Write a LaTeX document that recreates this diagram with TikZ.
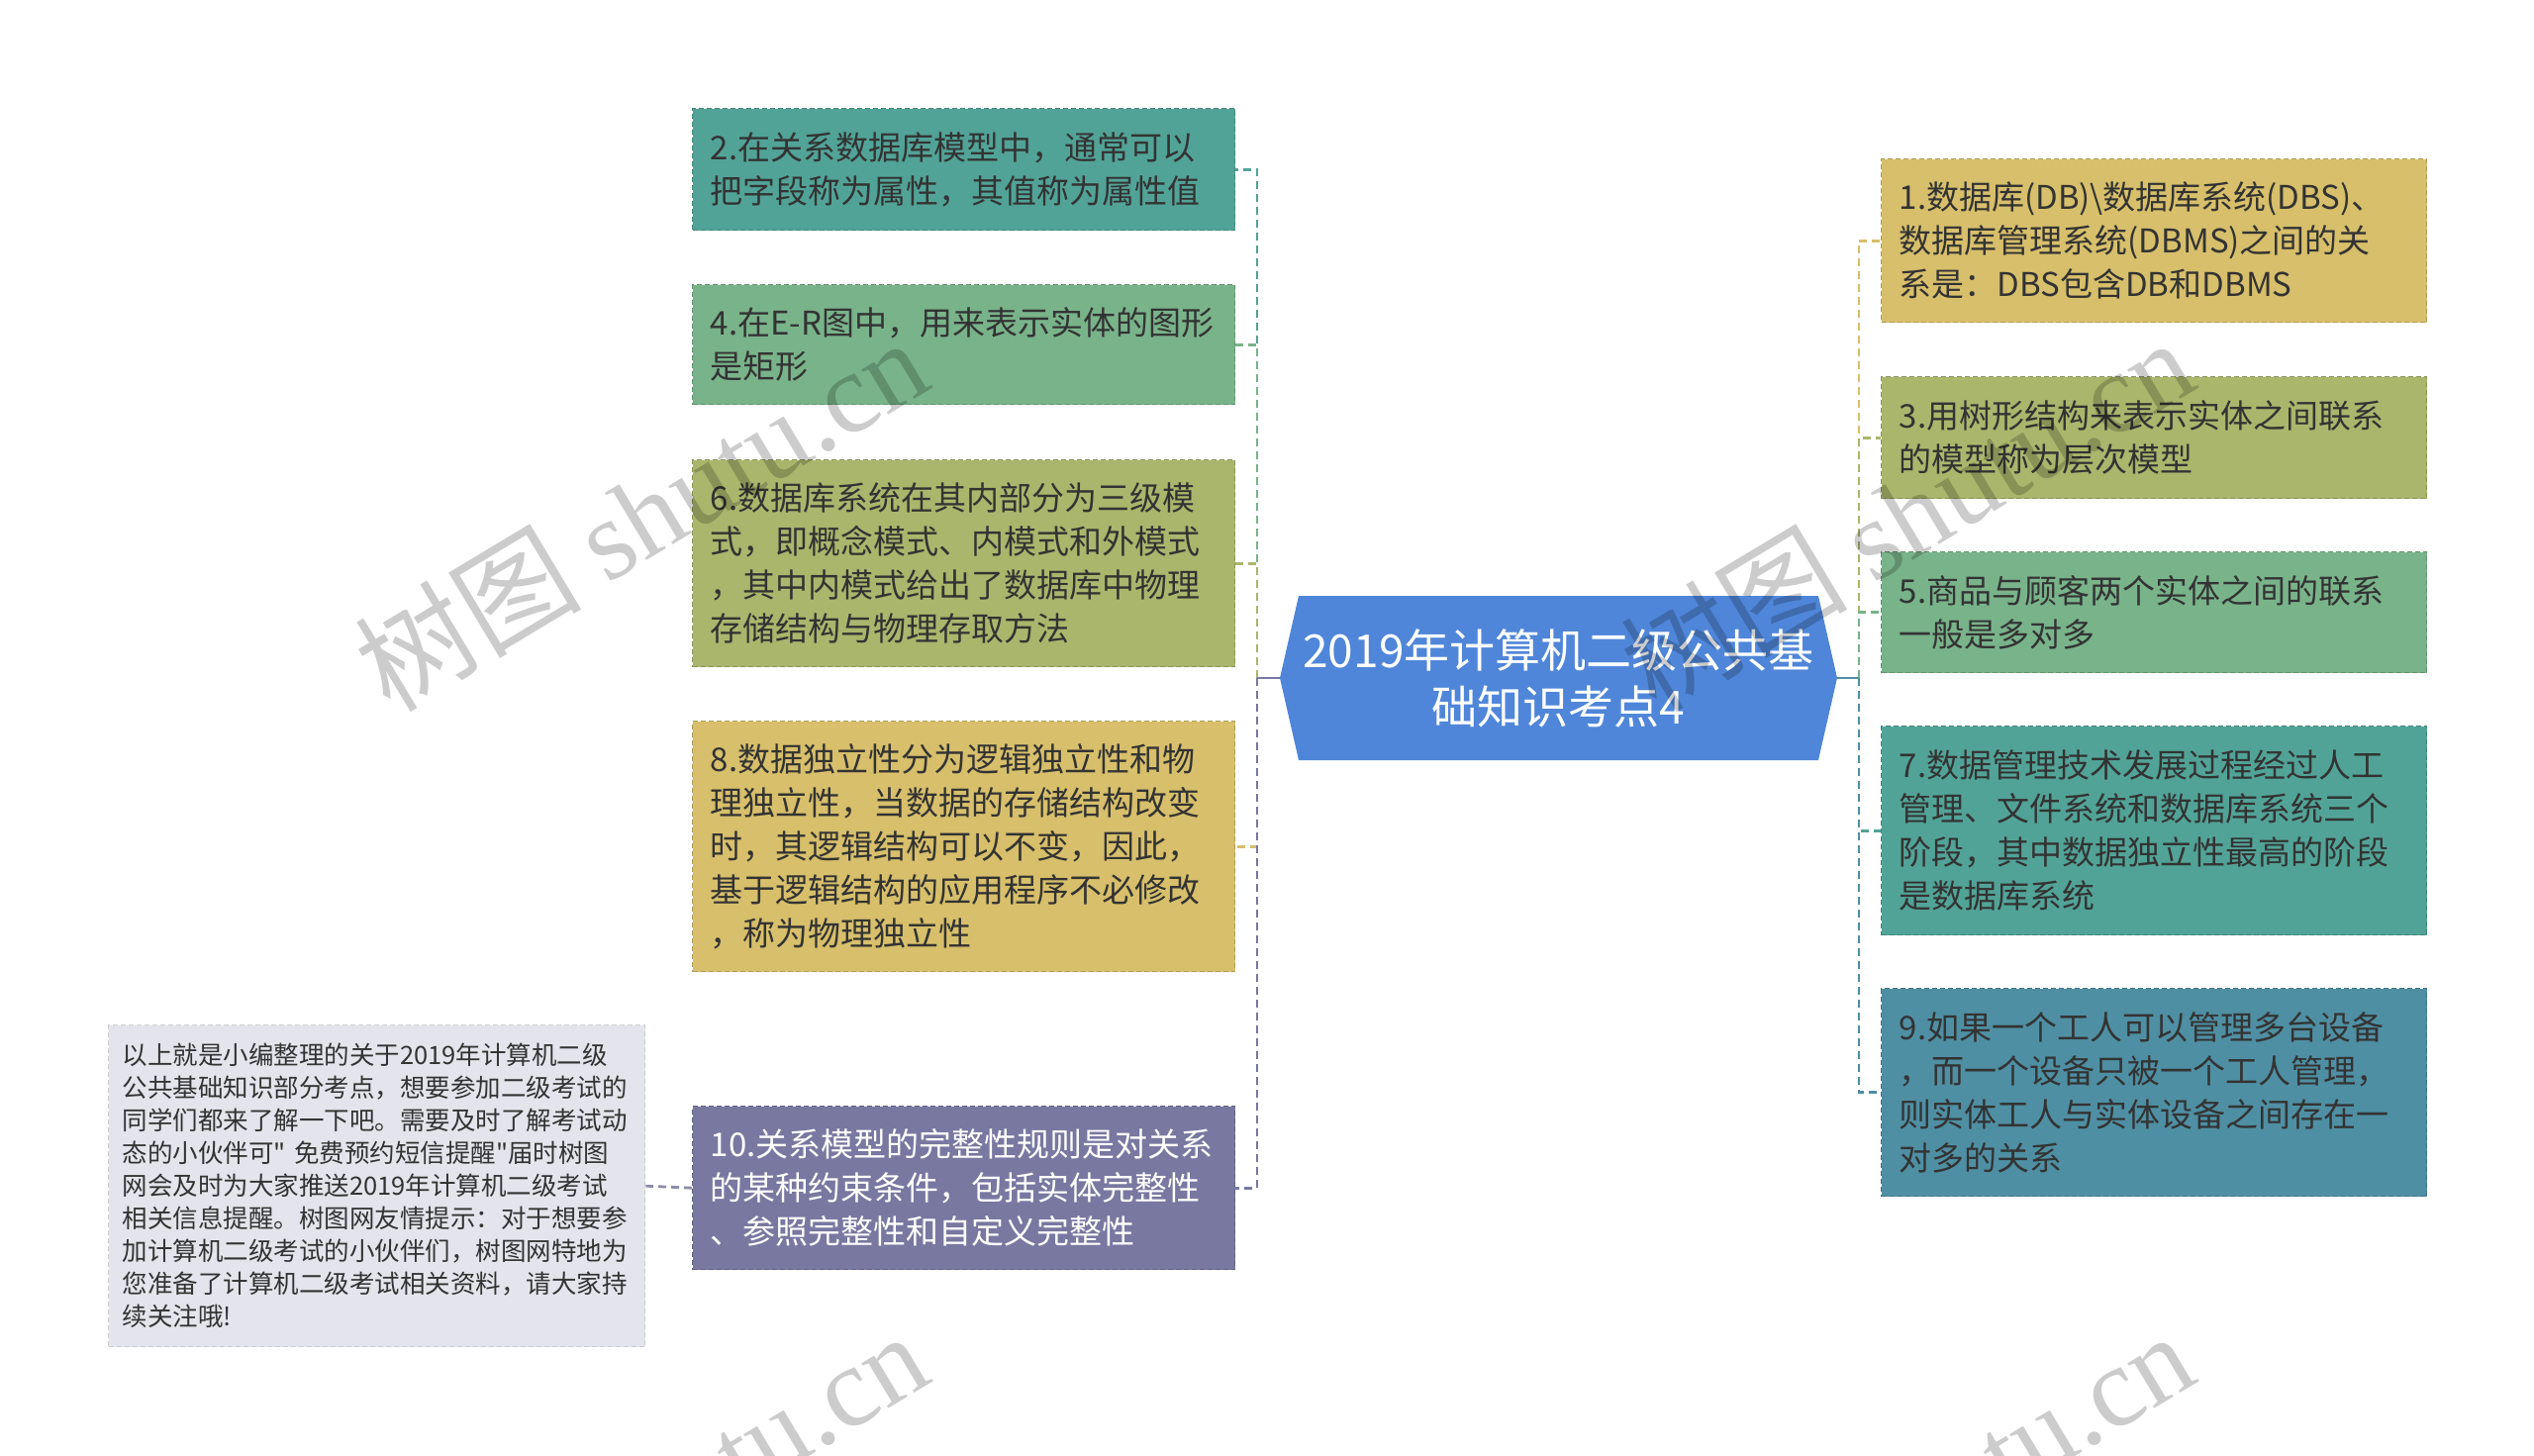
\documentclass[tikz,border=0pt]{standalone}
\usepackage{fontspec}
\setmainfont{Noto Sans CJK SC}[Ligatures=TeXOff]
\newfontfamily\wmlatin{Liberation Serif}
\definecolor{cTeal}{HTML}{52A397}
\definecolor{cGreen}{HTML}{79B38A}
\definecolor{cOlive}{HTML}{AAB66C}
\definecolor{cYellow}{HTML}{D7BF6B}
\definecolor{cPurple}{HTML}{7878A1}
\definecolor{cBlueTeal}{HTML}{4F8FA3}
\definecolor{cNote}{HTML}{E4E5EC}
\definecolor{cRoot}{HTML}{4F86D9}
\definecolor{cText}{HTML}{333333}
\definecolor{cNoteLine}{HTML}{8C8CA8}
\tikzset{
  leaf/.style={rectangle, anchor=north west, fill=#1, draw=#1!82!black,
    dash pattern=on 5pt off 3pt, line width=1.4pt, inner xsep=18pt, inner ysep=0pt,
    align=left, text=cText, font=\fontsize{33}{44}\selectfont},
  conn/.style={draw=#1, line width=2.8pt, dash pattern=on 8pt off 5pt},
  stub/.style={draw=#1, line width=2.8pt},
  wmark/.style={rotate=31, text=black, text opacity=0.2, font=\fontsize{115}{115}\selectfont},
}
\begin{document}
\begin{tikzpicture}[x=1pt,y=-1pt]
\useasboundingbox (0,0) rectangle (2560,1471);

% root
\fill[cRoot] (1312,602) -- (1837,602) -- (1856,685) -- (1837,768) -- (1312,768) -- (1293,685) -- cycle;
\node[font=\fontsize{46}{57}\selectfont, text=white, align=center, minimum width=563pt,
  minimum height=166pt, inner sep=0pt] (root) at (1574.5,685) {2019年计算机二级公共基\\础知识考点4};

% left children
\node[leaf=cTeal, text width=512pt, minimum height=123pt] (n2) at (699,109)
  {2.在关系数据库模型中，通常可以\\把字段称为属性，其值称为属性值};
\node[leaf=cGreen, text width=512pt, minimum height=121pt] (n4) at (699,287)
  {4.在E-R图中，用来表示实体的图形\\是矩形};
\node[leaf=cOlive, text width=512pt, minimum height=209pt] (n6) at (699,464)
  {6.数据库系统在其内部分为三级模\\式，即概念模式、内模式和外模式\\，其中内模式给出了数据库中物理\\存储结构与物理存取方法};
\node[leaf=cYellow, text width=512pt, minimum height=253pt] (n8) at (699,728)
  {8.数据独立性分为逻辑独立性和物\\理独立性，当数据的存储结构改变\\时，其逻辑结构可以不变，因此，\\基于逻辑结构的应用程序不必修改\\，称为物理独立性};
\node[leaf=cPurple, text=white, text width=512pt, minimum height=165pt] (n10) at (699,1117)
  {10.关系模型的完整性规则是对关系\\的某种约束条件，包括实体完整性\\、参照完整性和自定义完整性};

% note
\node[leaf=cNote, draw=cNote!90!black, inner xsep=14pt, text width=514pt, minimum height=325pt,
  font=\fontsize{25.5}{33}\selectfont] (note) at (109,1035)
  {以上就是小编整理的关于2019年计算机二级\\公共基础知识部分考点，想要参加二级考试的\\同学们都来了解一下吧。需要及时了解考试动\\\mbox{态的小伙伴可" 免费预约短信提醒"届时树图}\\网会及时为大家推送2019年计算机二级考试\\相关信息提醒。树图网友情提示：对于想要参\\加计算机二级考试的小伙伴们，树图网特地为\\您准备了计算机二级考试相关资料，请大家持\\续关注哦!};

% right children
\node[leaf=cYellow, text width=515pt, minimum height=165pt] (n1) at (1900,160)
  {1.数据库(DB)\textbackslash 数据库系统(DBS)、\\数据库管理系统(DBMS)之间的关\\系是：DBS包含DB和DBMS};
\node[leaf=cOlive, text width=515pt, minimum height=123pt] (n3) at (1900,380)
  {3.用树形结构来表示实体之间联系\\的模型称为层次模型};
\node[leaf=cGreen, text width=515pt, minimum height=122pt] (n5) at (1900,557)
  {5.商品与顾客两个实体之间的联系\\一般是多对多};
\node[leaf=cTeal, text width=515pt, minimum height=211pt] (n7) at (1900,733)
  {7.数据管理技术发展过程经过人工\\管理、文件系统和数据库系统三个\\阶段，其中数据独立性最高的阶段\\是数据库系统};
\node[leaf=cBlueTeal, text width=515pt, minimum height=210pt] (n9) at (1900,998)
  {9.如果一个工人可以管理多台设备\\，而一个设备只被一个工人管理，\\则实体工人与实体设备之间存在一\\对多的关系};

% connectors
\coordinate (Ls) at (1270,685);
\coordinate (Rs) at (1878,685);
\draw[conn=cTeal] (Ls) |- (n2.east);
\draw[conn=cGreen] (Ls) |- (n4.east);
\draw[conn=cOlive] (Ls) |- (n6.east);
\draw[conn=cYellow] (Ls) |- (n8.east);
\draw[conn=cPurple] (Ls) |- (n10.east);
\draw[stub=cPurple] (root.west) -- (Ls);
\draw[conn=cYellow] (Rs) |- (n1.west);
\draw[conn=cOlive] (Rs) |- (n3.west);
\draw[conn=cGreen] (Rs) |- (n5.west);
\draw[conn=cTeal] (Rs) |- (n7.west);
\draw[conn=cBlueTeal] (Rs) |- (n9.west);
\draw[stub=cBlueTeal] (root.east) -- (Rs);
\draw[conn=cNoteLine] (n10.west) -- (note.east);

% watermarks
\begin{scope}
\clip (0,0) rectangle (2560,1471);
\node[wmark] (wm1) at (647,519) {树图 {\wmlatin shutu.cn}};
\node[wmark] (wm2) at (1926,519) {树图 {\wmlatin shutu.cn}};
\node[wmark] (wm3) at (647,1523) {树图 {\wmlatin shutu.cn}};
\node[wmark] (wm4) at (1926,1523) {树图 {\wmlatin shutu.cn}};
\end{scope}
\end{tikzpicture}
\end{document}
